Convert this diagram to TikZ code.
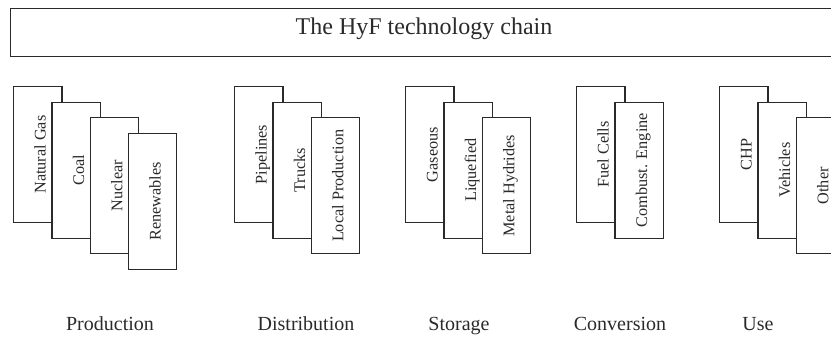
\documentclass[tikz,border=0pt]{standalone}
\usepackage{fontspec}
\setmainfont{Liberation Serif}
\definecolor{ink}{HTML}{2A2A2A}
% a fanned stack of cards: name prefix, left, top, list of entries
\newcommand\cardstack[4]{%
  \foreach \t [count=\i] in {#4} {
    \node[card] (#1\i) at ({#2+38.3*(\i-1)},{#3+15.6*(\i-1)}) {};
    \node[cardtext] (#1\i-text) at ([xshift=32.7pt]#1\i.west) {\t};
  }}
\begin{document}
\begin{tikzpicture}[x=1pt,y=-1pt,
  frame/.style={draw=ink, line width=1.2pt, inner sep=0pt, anchor=north west},
  card/.style={frame, fill=white, minimum width=48.3pt, minimum height=136pt},
  cardtext/.style={rotate=90, anchor=base, inner sep=0pt, text=ink,
    font=\fontsize{16.25}{18}\selectfont},
  stage/.style={anchor=base, inner sep=0pt, text=ink,
    font=\fontsize{20}{22}\selectfont},
]
\useasboundingbox (0,0) rectangle (831,337);
\clip (0,0) rectangle (831,337);

% heading bar, running off the right side
\node[frame, minimum width=840pt, minimum height=48pt] (chain) at (10,8) {};
\node[anchor=base, inner sep=0pt, text=ink, font=\fontsize{24}{26}\selectfont]
  (title) at (424,35) {The HyF technology chain};

% the five stages
\cardstack{prod}{13}{86}{Natural Gas, Coal, Nuclear, Renewables}
\cardstack{dist}{234}{86}{Pipelines, Trucks, Local Production}
\cardstack{stor}{405}{86}{Gaseous, Liquefied, Metal Hydrides}
\cardstack{conv}{576}{86}{Fuel Cells, Combust. Engine}
\cardstack{use}{719}{86}{CHP, Vehicles, Other}

% stage names
\node[stage] (production)   at (110,330) {Production};
\node[stage] (distribution) at (306,330) {Distribution};
\node[stage] (storage)      at (459,330) {Storage};
\node[stage] (conversion)   at (620,330) {Conversion};
\node[stage] (use)          at (758,330) {Use};
\end{tikzpicture}
\end{document}
